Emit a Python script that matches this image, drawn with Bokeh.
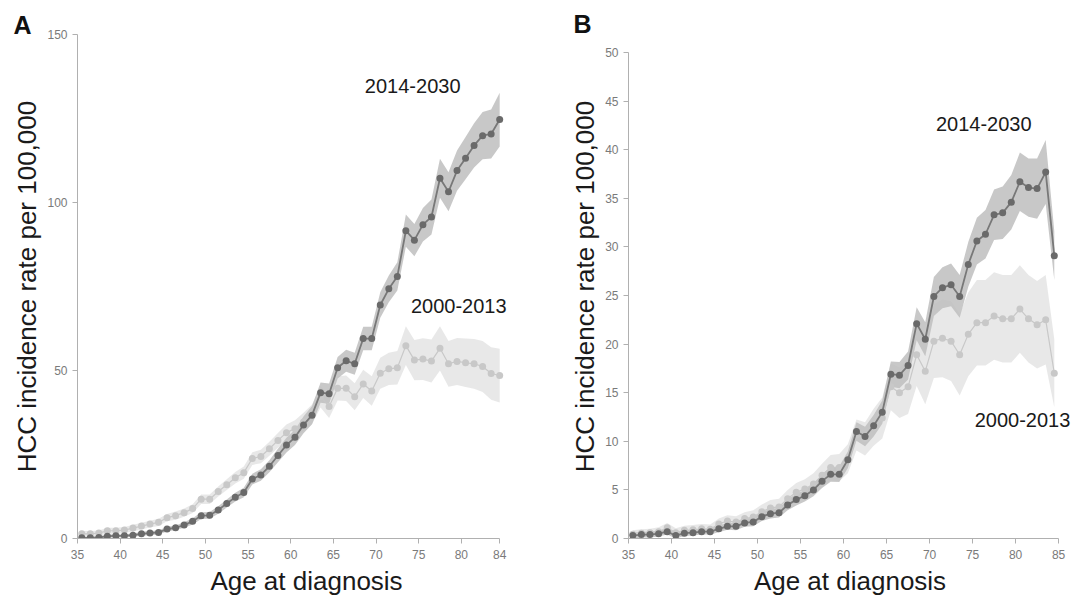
import numpy as np
from bokeh.plotting import figure
from bokeh.layouts import row
from bokeh.models import Range1d, Label, FixedTicker
from bokeh.embed import file_html
from bokeh.resources import INLINE

# ---------------- data ----------------
ages = [a + 0.5 for a in range(35, 85)]  # plotted at mid-year positions

# Panel A
a_recent = [0.2, 0.2, 0.3, 0.7, 0.8, 0.8, 1.0, 1.4, 1.6, 1.8,
            2.8, 3.2, 4.0, 5.1, 6.8, 6.9, 8.5, 10.4, 12.3, 13.7,
            17.7, 18.9, 21.5, 24.7, 27.8, 30.1, 33.8, 36.7, 43.4, 43.1,
            50.8, 52.9, 52.0, 59.5, 59.5, 69.5, 74.3, 78.0, 91.6, 88.8,
            93.4, 95.7, 107.2, 103.2, 109.5, 113.2, 117.0, 119.9, 120.4, 124.7]
a_recent_ci = [0.4, 0.4, 0.4, 0.5, 0.5, 0.5, 0.5, 0.6, 0.6, 0.6,
               0.7, 0.7, 0.8, 0.9, 1.0, 1.0, 1.1, 1.2, 1.3, 1.4,
               1.6, 1.7, 1.8, 2.0, 2.2, 2.3, 2.5, 2.7, 3.0, 3.0,
               3.2, 3.3, 3.3, 3.5, 3.5, 3.8, 4.0, 4.2, 4.8, 4.8,
               5.0, 5.2, 5.8, 5.8, 6.0, 6.3, 6.6, 7.0, 7.3, 8.0]
a_past = [1.4, 1.4, 1.6, 2.3, 2.3, 2.5, 3.1, 3.7, 4.3, 4.8,
          6.2, 6.8, 7.7, 8.9, 11.7, 11.7, 14.0, 16.0, 18.1, 19.6,
          23.8, 24.4, 26.7, 29.2, 31.5, 32.7, 34.7, 37.0, 42.2, 39.3,
          44.7, 44.7, 42.2, 46.0, 43.9, 49.2, 50.5, 50.8, 57.4, 53.1,
          53.4, 52.8, 56.6, 52.0, 52.7, 52.3, 52.0, 51.2, 49.1, 48.5]
a_past_ci = [0.8, 0.8, 0.8, 0.9, 0.9, 0.9, 1.0, 1.0, 1.0, 1.1,
             1.1, 1.2, 1.2, 1.3, 1.4, 1.4, 1.5, 1.6, 1.7, 1.8,
             1.9, 2.0, 2.1, 2.2, 2.4, 2.5, 2.7, 2.9, 3.2, 3.4,
             3.6, 3.8, 4.0, 4.2, 4.4, 4.6, 4.8, 5.0, 5.8, 6.0,
             6.2, 6.4, 6.6, 6.8, 7.0, 7.2, 7.4, 7.6, 7.8, 8.0]

# Panel B
b_recent = [0.3, 0.4, 0.4, 0.5, 0.7, 0.3, 0.55, 0.6, 0.7, 0.7,
            1.0, 1.25, 1.25, 1.6, 1.7, 2.25, 2.55, 2.65, 3.45, 4.0,
            4.4, 5.0, 5.9, 6.6, 6.6, 8.1, 11.0, 10.5, 11.6, 13.0,
            16.9, 16.8, 17.8, 22.1, 20.5, 24.9, 25.8, 26.1, 24.9, 28.2,
            30.6, 31.3, 33.3, 33.5, 34.6, 36.7, 36.1, 36.0, 37.7, 29.1]
b_recent_ci = [0.3, 0.3, 0.3, 0.3, 0.3, 0.3, 0.3, 0.3, 0.3, 0.3,
               0.35, 0.35, 0.4, 0.4, 0.45, 0.45, 0.5, 0.5, 0.55, 0.6,
               0.6, 0.65, 0.7, 0.75, 0.8, 0.85, 0.95, 1.0, 1.1, 1.2,
               1.3, 1.35, 1.45, 1.7, 1.75, 2.0, 2.1, 2.2, 2.2, 2.3,
               2.4, 2.5, 2.6, 2.7, 2.8, 3.0, 3.0, 3.1, 3.3, 2.5]
b_past = [0.45, 0.55, 0.6, 0.7, 1.1, 0.6, 0.85, 0.9, 1.0, 0.95,
          1.5, 1.8, 1.7, 2.05, 2.2, 2.75, 3.15, 3.25, 4.1, 4.75,
          5.1, 5.6, 6.5, 7.3, 7.3, 8.2, 10.65, 10.25, 11.45, 12.4,
          15.6, 15.0, 15.6, 18.9, 17.2, 20.3, 20.6, 20.3, 18.9, 21.0,
          22.2, 22.2, 22.9, 22.6, 22.6, 23.6, 22.6, 22.0, 22.5, 17.0]
b_past_ci = [0.4, 0.4, 0.4, 0.45, 0.5, 0.45, 0.45, 0.5, 0.5, 0.5,
             0.55, 0.6, 0.6, 0.65, 0.7, 0.75, 0.8, 0.85, 0.9, 0.95,
             1.0, 1.1, 1.2, 1.3, 1.4, 1.5, 1.6, 1.7, 1.9, 2.1,
             2.4, 2.6, 2.8, 3.2, 3.4, 3.8, 4.0, 4.1, 4.2, 4.3,
             4.4, 4.4, 4.5, 4.5, 4.5, 4.5, 4.5, 4.5, 4.6, 3.5]

a_yticks = [0, 50, 100, 150]
a_xticks = [35, 40, 45, 50, 55, 60, 65, 70, 75, 80, 84.5]
a_xlabels = {84.5: "84"}
b_yticks = [0, 5, 10, 15, 20, 25, 30, 35, 40, 45, 50]
b_xticks = [35, 40, 45, 50, 55, 60, 65, 70, 75, 80, 85]

label_recent = "2014-2030"
label_past = "2000-2013"
x_title = "Age at diagnosis"
y_title = "HCC incidence rate per 100,000"

FONT = "Liberation Sans"
DARK = "#6a6a6a"
DARK_LINE = "#787878"
LIGHT = "#c8c8c8"
BAND_DARK = "#bebebe"
BAND_LIGHT = "#e6e6e6"
AXIS = "#b0b0b0"
TICK_TXT = "#7a7a7a"


def make_panel(width, xr, xb, yr, yb, xticks, yticks, recent, recent_ci, past, past_ci,
               borders, letter, letter_off, letter_standoff, rec_pos, past_pos, xoverrides=None):
    p = figure(width=width, height=604, x_range=Range1d(*xr), y_range=Range1d(*yr),
               output_backend="svg", toolbar_location=None, title=letter,
               min_border_left=borders[0], min_border_right=borders[1],
               min_border_top=borders[2], min_border_bottom=borders[3])
    p.outline_line_color = None
    p.grid.grid_line_color = None
    p.background_fill_color = "white"
    p.border_fill_color = "white"

    p.title.align = "left"
    p.title.offset = letter_off
    p.title.standoff = letter_standoff
    p.title.text_font = FONT
    p.title.text_font_size = "25px"
    p.title.text_font_style = "bold"
    p.title.text_color = "#111111"

    x = np.array(ages)
    rec = np.array(recent); rci = np.array(recent_ci)
    pst = np.array(past); pci = np.array(past_ci)

    p.varea(x=x, y1=pst - pci, y2=pst + pci, fill_color=BAND_LIGHT, fill_alpha=0.9)
    p.varea(x=x, y1=rec - rci, y2=rec + rci, fill_color=BAND_DARK, fill_alpha=0.85)
    p.line(x, pst, line_color=LIGHT, line_width=1.2)
    p.scatter(x, pst, size=7, fill_color=LIGHT, line_color=None)
    p.line(x, rec, line_color=DARK_LINE, line_width=1.8)
    p.scatter(x, rec, size=7, fill_color=DARK, line_color=None)

    for ax in (p.xaxis[0], p.yaxis[0]):
        ax.axis_line_color = AXIS
        ax.major_tick_line_color = AXIS
        ax.major_tick_out = 5
        ax.major_tick_in = 0
        ax.minor_tick_line_color = None
        ax.major_label_text_font = FONT
        ax.major_label_text_font_size = "12px"
        ax.major_label_text_color = TICK_TXT
        ax.axis_label_text_font = FONT
        ax.axis_label_text_font_size = "26px"
        ax.axis_label_text_font_style = "normal"
        ax.axis_label_text_color = "#1a1a1a"
    p.xaxis.bounds = xb
    p.yaxis.bounds = yb
    p.xaxis.ticker = FixedTicker(ticks=xticks)
    p.yaxis.ticker = FixedTicker(ticks=yticks)
    if xoverrides:
        p.xaxis.major_label_overrides = xoverrides
    p.xaxis.axis_label = x_title
    p.yaxis.axis_label = y_title
    p.xaxis.major_label_standoff = 6
    p.yaxis.major_label_standoff = 5
    p.xaxis.axis_label_standoff = 4
    p.yaxis.axis_label_standoff = 2

    p.add_layout(Label(x=rec_pos[0], y=rec_pos[1], text=label_recent, text_font=FONT,
                       text_font_size="20px", text_color="#1a1a1a",
                       text_align="center", text_baseline="middle"))
    p.add_layout(Label(x=past_pos[0], y=past_pos[1], text=label_past, text_font=FONT,
                       text_font_size="20px", text_color="#1a1a1a",
                       text_align="center", text_baseline="middle"))
    return p


pA = make_panel(540, (35, 88.7), (35, 84.5), (0, 150), (0, 150), a_xticks, a_yticks,
                a_recent, a_recent_ci, a_past, a_past_ci,
                (77, 5, 34, 66), "A", -64, -8, (74.3, 134.8), (79.7, 69.2),
                xoverrides=a_xlabels)
pB = make_panel(532, (35, 86.5), (35, 85), (0, 51.85), (0, 50), b_xticks, b_yticks,
                b_recent, b_recent_ci, b_past, b_past_ci,
                (88, 1, 34, 65), "B", -55, -7, (76.3, 42.6), (80.8, 12.2))

layout = row(pA, pB)
open("out.html", "w").write(file_html(layout, INLINE))
